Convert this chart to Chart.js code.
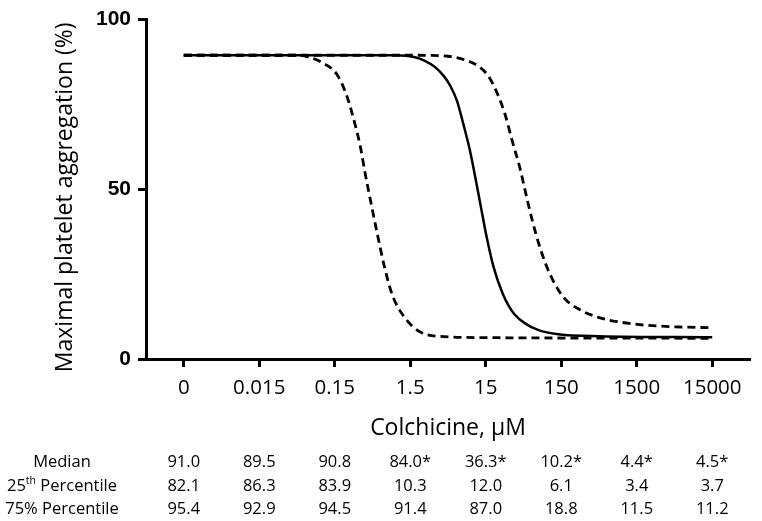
<!DOCTYPE html>
<html>
<head>
<meta charset="utf-8">
<script src="https://cdn.jsdelivr.net/npm/chart.js@4"></script>
<style>
  body { margin: 0; background: #fff; }
  #wrap { width: 762px; height: 521px; position: relative; }
</style>
</head>
<body>
<div id="wrap"><canvas id="dose-chart"></canvas></div>
<script>
// concentration tick labels (µM), one per category position 0..7
const concLabels = ['0', '0.015', '0.15', '1.5', '15', '150', '1500', '15000']

// table under the chart
const rowNames = ['Median', '25th Percentile', '75% Percentile']
const medianVals = ['91.0', '89.5', '90.8', '84.0*', '36.3*', '10.2*', '4.4*', '4.5*']
const p25Vals = ['82.1', '86.3', '83.9', '10.3', '12.0', '6.1', '3.4', '3.7']
const p75Vals = ['95.4', '92.9', '94.5', '91.4', '87.0', '18.8', '11.5', '11.2']

// fitted curves (x = category position, y = % aggregation)
const fitMedianX = [0, 2.8, 3.05, 3.2, 3.33, 3.45, 3.53, 3.62, 3.70, 3.79, 3.865, 3.935, 4.005, 4.105, 4.225, 4.30, 4.38, 4.52, 4.70, 4.96, 5.5, 7]
const fitMedianY = [89.5, 89.5, 89.0, 87.8, 86.0, 83.2, 80.5, 76.0, 69.5, 61.5, 53.1, 44.9, 36.7, 27.0, 19.2, 15.8, 13.2, 10.5, 8.5, 7.3, 6.7, 6.4]

const fit25X = [0, 1.5, 1.68, 1.82, 2.03, 2.16, 2.27, 2.34, 2.40, 2.48, 2.565, 2.66, 2.765, 2.92, 3.13, 3.44, 4.0, 7]
const fit25Y = [89.5, 89.5, 88.8, 87.5, 83.8, 77.5, 69.0, 62.5, 55.0, 46.0, 36.7, 27.0, 18.7, 12.4, 8.0, 6.6, 6.3, 6.1]

const fit75X = [0, 3.0, 3.5, 3.7, 3.9, 4.03, 4.15, 4.255, 4.35, 4.45, 4.525, 4.62, 4.72, 4.85, 5.03, 5.25, 5.5, 5.8, 6.1, 6.5, 7]
const fit75Y = [89.5, 89.5, 89.2, 88.3, 86.3, 83.5, 78.4, 72.1, 64.3, 56.5, 49.3, 40.5, 32.7, 25.0, 18.2, 14.5, 12.2, 10.8, 10.0, 9.5, 9.2]

const toPoints = (xs, ys) => xs.map((x, i) => ({ x: x, y: ys[i] }))

const textFont = '"Open Sans", "DejaVu Sans", sans-serif'

// titles + the percentile table are drawn after the chart
const extrasPlugin = {
    id: 'extras',
    afterDraw(chart) {
        const ctx = chart.ctx
        const area = chart.chartArea
        const xScale = chart.scales.x
        ctx.save()
        ctx.fillStyle = '#000'

        // y axis title
        ctx.save()
        ctx.translate(65, (area.top + area.bottom) / 2 + 8)
        ctx.rotate(-Math.PI / 2)
        ctx.font = '23px ' + textFont
        ctx.textAlign = 'center'
        ctx.textBaseline = 'middle'
        ctx.fillText('Maximal platelet aggregation (%)', 0, 0)
        ctx.restore()

        // x axis title
        ctx.font = '23px ' + textFont
        ctx.textAlign = 'center'
        ctx.textBaseline = 'middle'
        ctx.fillText('Colchicine, \u03bcM', (area.left + area.right) / 2, 428)

        // table
        const rowY = [462, 486, 509]
        const rows = [medianVals, p25Vals, p75Vals]
        ctx.font = '16.5px ' + textFont
        rows.forEach((vals, r) => {
            vals.forEach((v, i) => {
                ctx.fillText(v, xScale.getPixelForValue(i), rowY[r])
            })
        })

        // row names (25th has a superscript)
        const labelX = 62
        ctx.fillText(rowNames[0], labelX, rowY[0])
        ctx.fillText(rowNames[2], labelX, rowY[2])

        const big = '16.5px ' + textFont
        const small = '10.5px ' + textFont
        ctx.font = big
        const w1 = ctx.measureText('25').width
        const w3 = ctx.measureText(' Percentile').width
        ctx.font = small
        const w2 = ctx.measureText('th').width
        let x0 = labelX - (w1 + w2 + w3) / 2
        ctx.textAlign = 'left'
        ctx.font = big
        ctx.fillText('25', x0, rowY[1])
        ctx.font = small
        ctx.fillText('th', x0 + w1, rowY[1] - 5)
        ctx.font = big
        ctx.fillText(' Percentile', x0 + w1 + w2, rowY[1])

        ctx.restore()
    }
}

function buildChart() {
    const el = document.getElementById('dose-chart')

    new Chart(el, {
        type: 'scatter',
        data: {
            datasets: [
                {
                    label: 'Median fit',
                    data: toPoints(fitMedianX, fitMedianY),
                    showLine: true,
                    borderColor: '#000',
                    borderWidth: 2.5,
                    pointRadius: 0,
                    cubicInterpolationMode: 'monotone'
                },
                {
                    label: '25th percentile fit',
                    data: toPoints(fit25X, fit25Y),
                    showLine: true,
                    borderColor: '#000',
                    borderWidth: 2.8,
                    borderDash: [8, 5],
                    pointRadius: 0,
                    cubicInterpolationMode: 'monotone'
                },
                {
                    label: '75th percentile fit',
                    data: toPoints(fit75X, fit75Y),
                    showLine: true,
                    borderColor: '#000',
                    borderWidth: 2.8,
                    borderDash: [8, 5],
                    pointRadius: 0,
                    cubicInterpolationMode: 'monotone'
                }
            ]
        },
        options: {
            responsive: true,
            maintainAspectRatio: false,
            animation: false,
            layout: { padding: { top: 16, right: 12, left: 0, bottom: 0 } },
            plugins: {
                legend: { display: false },
                tooltip: { enabled: false }
            },
            scales: {
                x: {
                    type: 'linear',
                    min: -0.5,
                    max: 7.5,
                    afterBuildTicks: scale => {
                        scale.ticks = concLabels.map((_, i) => ({ value: i }))
                    },
                    afterFit: scale => { scale.height = 162 },
                    border: { display: true, color: '#000', width: 3 },
                    grid: {
                        drawOnChartArea: false,
                        drawTicks: true,
                        tickLength: 8,
                        tickWidth: 3,
                        tickColor: '#000'
                    },
                    ticks: {
                        autoSkip: false,
                        maxRotation: 0,
                        padding: 9,
                        color: '#000',
                        font: { family: textFont, size: 20.5 },
                        callback: (value, index) => concLabels[index]
                    }
                },
                y: {
                    min: 0,
                    max: 100,
                    afterFit: scale => { scale.width = 146 },
                    border: { display: true, color: '#000', width: 3 },
                    grid: {
                        drawOnChartArea: false,
                        drawTicks: true,
                        tickLength: 8,
                        tickWidth: 3,
                        tickColor: '#000'
                    },
                    ticks: {
                        stepSize: 50,
                        padding: 7,
                        color: '#000',
                        font: { family: '"Liberation Sans", Arial, sans-serif', size: 21, weight: 'bold' }
                    }
                }
            }
        },
        plugins: [extrasPlugin]
    })
}

if (document.fonts && document.fonts.load) {
    Promise.all([
        document.fonts.load('23px "Open Sans"'),
        document.fonts.load('bold 21px "Liberation Sans"')
    ]).then(buildChart, buildChart)
} else {
    buildChart()
}
</script>
</body>
</html>
